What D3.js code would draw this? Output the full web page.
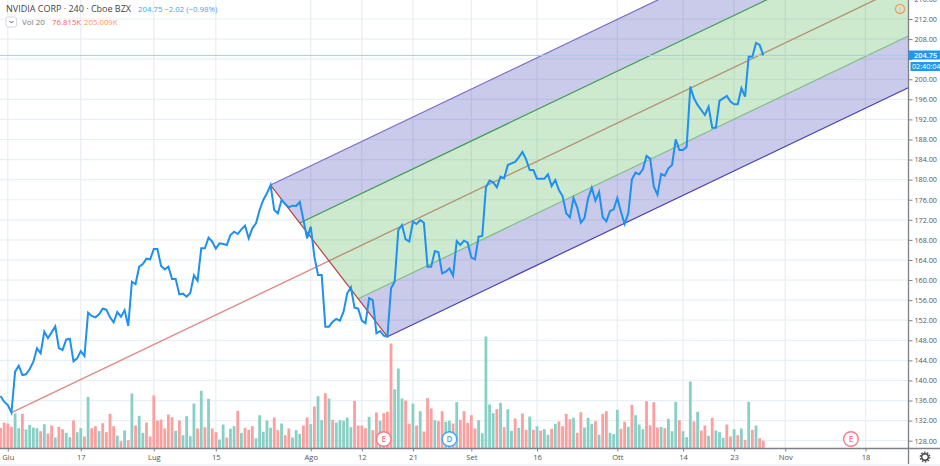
<!DOCTYPE html>
<html><head><meta charset="utf-8">
<style>html,body{margin:0;padding:0;background:#fff;overflow:hidden}svg{display:block}text{font-family:"Open Sans",sans-serif}</style>
<script src="https://cdn.jsdelivr.net/npm/d3@7/dist/d3.min.js"></script>
</head><body><svg id="c" width="940" height="466"></svg>
<script>
const closePrices = [
136.9,135.77,135.1,133.6,141.75,142.94,141.08,141.22,142.28,143.74,
146.40,145.40,149.72,148.45,149.58,150.78,146.46,146.06,148.12,148.32,
143.81,144.40,145.86,144.87,153.50,152.84,152.57,153.17,154.30,154.10,
152.57,151.57,153.63,152.70,153.97,150.84,159.68,159.21,162.66,163.19,
164.26,164.12,166.18,166.18,162.80,162.13,162.66,160.21,160.21,157.15,
157.29,156.69,157.42,160.94,159.87,166.32,166.32,168.44,167.64,166.25,
167.31,167.18,166.98,168.97,169.64,169.17,170.10,170.83,168.31,170.30,
171.30,173.95,175.94,177.27,178.93,173.95,173.29,175.94,175.15,174.48,
174.82,174.75,175.55,171.96,168.31,170.63,164.66,161.00,161.00,150.71,
150.71,151.71,152.24,151.91,153.70,157.35,158.55,154.50,154.30,151.91,
151.38,156.42,156.02,149.38,149.85,148.92,148.72,158.35,159.68,169.97,
170.96,168.11,167.71,171.63,171.16,171.96,171.43,162.66,162.66,165.78,
165.52,161.34,161.67,162.33,160.87,167.78,166.98,167.84,167.45,164.46,
164.13,168.64,168.77,178.47,179.80,179.46,178.47,180.59,180.26,182.92,
183.25,183.52,184.45,185.51,184.05,181.92,181.92,180.20,180.20,180.20,
181.06,178.73,179.93,177.94,176.74,173.29,172.49,176.34,174.48,171.43,
172.36,176.28,178.40,175.81,177.54,172.49,171.70,173.75,174.09,176.34,
173.62,171.16,173.29,180.06,181.39,181.06,182.05,184.71,184.18,178.60,
177.01,181.13,180.79,182.25,182.92,188.03,185.91,185.91,186.57,198.53,
196.20,194.88,193.88,192.88,194.54,190.36,190.36,195.74,196.20,196.67,
195.54,195.01,195.01,198.20,196.54,204.50,204.50,207.23,206.83,204.75];
const volumes = [
207,260,250,217,350,203,347,190,237,210,
203,173,243,150,230,110,217,193,157,113,
280,163,203,120,517,203,223,173,253,163,
347,223,130,73,180,83,550,230,327,157,
260,120,530,280,290,200,340,313,177,280,
133,323,123,450,200,577,213,497,200,163,
90,240,110,197,223,377,157,207,187,223,
103,333,167,280,207,310,183,250,133,200,
110,183,147,230,310,243,420,523,283,553,
500,287,260,283,277,310,213,477,230,230,
203,317,183,360,277,353,367,1050,593,800,
500,480,247,450,230,373,170,503,400,283,
273,373,267,277,250,463,287,373,257,333,
200,283,153,1120,440,353,393,457,213,393,
177,300,207,350,187,320,187,223,180,193,
137,197,247,270,223,347,293,307,157,363,
210,307,247,273,137,347,373,157,143,387,
197,267,217,437,333,240,193,473,233,463,
210,217,203,297,173,467,283,173,113,670,
270,367,180,230,127,307,180,163,107,240,
120,193,133,200,87,467,187,230,103,77];
const upBars = [4,5,7,8,9,10,12,15,18,19,21,22,24,27,32,34,36,38,39,48,50,51,52,53,55,57,60,61,63,64,66,70,71,
72,73,74,77,80,81,82,85,87,88,90,92,93,94,95,96,101,104,108,109,110,113,115,119,122,123,125,131,132,133,134,135,137,139,140,142,
145,147,149,150,152,157,160,161,162,164,167,168,169,172,174,175,176,181,183,184,185,187,188,189,191,194,196,197,198,201,203,205,207];
const tickBars = [2,22,42,59,85,99,113,129,147,169,187,201,215,237];
const tickLabels = ["Giu","17","Lug","15","Ago","12","21","Set","16","Ott","14","23","Nov","18"];
const priceTicks = [128,132,136,140,144,148,152,156,160,164,168,172,176,180,184,188,192,196,200,204,208,212,216];
const hiddenPriceLabel = 204;
const pivotBars = [3,74,106];
const eventBars = [105,123,233];
const eventLabels = ["E","D","E"];
const eventColors = ["#f47c85","#42a5f5","#f47c85"];

const W=940,H=466,plotR=908.5,plotB=448.5;
const x=d3.scaleLinear().domain([0,237]).range([0.5,865.5]);
const y=d3.scaleLinear().domain([128,212]).range([440.7,19]);
const v=d3.scaleLinear().domain([0,1120]).range([plotB,336.5]);
const svg=d3.select("#c");
svg.append("rect").attr("width",W).attr("height",H).attr("fill","#fff");
const defs=svg.append("defs");
defs.append("clipPath").attr("id","plot").append("rect").attr("width",plotR).attr("height",plotB);
const g=svg.append("g").attr("clip-path","url(#plot)");

// grid
g.selectAll(".gh").data(priceTicks).join("line").attr("x1",0).attr("x2",plotR)
 .attr("y1",d=>y(d)).attr("y2",d=>y(d)).attr("stroke","#e9f0f5").attr("stroke-width",1.2);
g.selectAll(".gv").data(tickBars).join("line").attr("y1",0).attr("y2",plotB)
 .attr("x1",d=>x(d)).attr("x2",d=>x(d)).attr("stroke","#e6eef4").attr("stroke-width",1.2);

// volume
const upSet=new Set(upBars);
g.selectAll(".vol").data(volumes).join("rect")
 .attr("x",(d,i)=>x(i)-1.4).attr("width",2.8)
 .attr("y",d=>v(d)).attr("height",d=>plotB-v(d))
 .attr("fill",(d,i)=>upSet.has(i)?"#88d0c5":"#fb9f9f");

// pitchfork (in data space: bar, price)
const A=[pivotBars[0],closePrices[pivotBars[0]]],
      B=[pivotBars[1],closePrices[pivotBars[1]]],
      C=[pivotBars[2],closePrices[pivotBars[2]]];
const M=[(B[0]+C[0])/2,(B[1]+C[1])/2];
const slope=(M[1]-A[1])/(M[0]-A[0]);
const endBar=x.invert(plotR+40);
const lerp=t=>[B[0]+(C[0]-B[0])*t,B[1]+(C[1]-B[1])*t];
const ext=p=>[endBar,p[1]+slope*(endBar-p[0])];
const px=p=>[x(p[0]),y(p[1])];
const poly=(a,b)=>[px(a),px(ext(a)),px(ext(b)),px(b)].map(p=>p.join(",")).join(" ");
const P0=lerp(0),P1=lerp(.25),P2=lerp(.5),P3=lerp(.75),P4=lerp(1);
const seg=(a,b,c,w)=>{const p=px(a),q=px(b);g.append("line").attr("x1",p[0]).attr("y1",p[1]).attr("x2",q[0]).attr("y2",q[1]).attr("stroke",c).attr("stroke-width",w||1.2);};
seg(A,ext(P2),"#de8a86",1.4);
g.append("polygon").attr("points",poly(P0,P1)).attr("fill","rgba(63,63,180,0.28)");
g.append("polygon").attr("points",poly(P1,P3)).attr("fill","rgba(76,175,80,0.28)");
g.append("polygon").attr("points",poly(P3,P4)).attr("fill","rgba(63,63,180,0.28)");
seg(P0,ext(P0),"#7d6dc0");
seg(P1,ext(P1),"#3f9a55");
seg(P3,ext(P3),"#7fbf82");
seg(P4,ext(P4),"#4a3fb5");
seg(P0,P4,"#b5423f");

// last price line
const lastPrice=closePrices[closePrices.length-1];
g.append("line").attr("x1",0).attr("x2",plotR).attr("y1",y(lastPrice)).attr("y2",y(lastPrice))
 .attr("stroke","#9ccff2").attr("stroke-width",1);

// price line
g.append("path").datum(closePrices)
 .attr("d",d3.line().x((d,i)=>x(i)).y(d=>y(d)))
 .attr("fill","none").attr("stroke","#1e90f0").attr("stroke-width",2).attr("stroke-linejoin","miter");

// events
const ev=g.selectAll(".ev").data(eventBars).join("g").attr("transform",d=>`translate(${x(d)},439)`);
ev.append("circle").attr("r",7.3).attr("fill","#fff").attr("stroke",(d,i)=>eventColors[i]).attr("stroke-width",1.4);
ev.append("text").text((d,i)=>eventLabels[i]).attr("text-anchor","middle").attr("y",3).attr("font-size",8).attr("font-weight",600).attr("fill",(d,i)=>eventColors[i]);

// alert icon
const al=svg.append("g").attr("transform","translate(900,9)");
al.append("circle").attr("r",4.6).attr("fill","none").attr("stroke","#f0a060").attr("stroke-width",1.3);
al.append("text").text("!").attr("text-anchor","middle").attr("y",3).attr("font-size",8).attr("fill","#f0a060");

// axes
const ay=svg.append("g").attr("transform",`translate(${plotR},0)`)
 .call(d3.axisRight(y).tickValues(priceTicks).tickFormat(d=>d===hiddenPriceLabel?"":d3.format(".2f")(d)).tickSize(4).tickPadding(2));
ay.select(".domain").attr("d",`M0,0V${H}`).attr("stroke","#7d8187").attr("stroke-width",1.3);
ay.selectAll(".tick line").attr("stroke","#7d8187");
ay.selectAll("text").attr("font-size",7.2).attr("fill","#555").attr("font-family",'"Open Sans",sans-serif');

const ax=svg.append("g").attr("transform",`translate(0,${plotB})`)
 .call(d3.axisBottom(x).tickValues(tickBars).tickFormat((d,i)=>tickLabels[i]).tickSize(3).tickPadding(3));
ax.select(".domain").attr("d",`M0,0H${W}`).attr("stroke","#7d8187").attr("stroke-width",1.3);
ax.selectAll(".tick line").attr("stroke","#7d8187");
ax.selectAll("text").attr("font-size",7.6).attr("fill","#555").attr("font-family",'"Open Sans",sans-serif');

svg.append("rect").attr("x",0).attr("y",464).attr("width",W).attr("height",2).attr("fill","#f2f4fa");

// last-price tags
svg.append("rect").attr("x",plotR).attr("y",50.5).attr("width",W-plotR).attr("height",9).attr("fill","#2196f3");
svg.append("text").text(d3.format(".2f")(lastPrice)).attr("x",914).attr("y",57.8).attr("font-size",7.4).attr("font-weight",600).attr("fill","#fff");
svg.append("rect").attr("x",plotR+2).attr("y",62).attr("width",W-plotR-2).attr("height",9).attr("fill","#2196f3");
svg.append("text").text("02:40:04").attr("x",912).attr("y",69.3).attr("font-size",7.2).attr("fill","#fff");

// legend
const t=(s,xp,yp,c,fs)=>svg.append("text").text(s).attr("x",xp).attr("y",yp).attr("fill",c).attr("font-size",fs);
t("NVIDIA CORP · 240 · Cboe BZX",6,11.5,"#444",9);
t("204.75  −2.02 (−0.98%)",138,12,"#42a5f5",7.8);
svg.append("rect").attr("x",6).attr("y",17).attr("width",10.5).attr("height",10).attr("rx",2).attr("fill","#fff").attr("stroke","#d5d8de");
svg.append("path").attr("d","M9.5,21 l2,2 l2,-2").attr("fill","none").attr("stroke","#555").attr("stroke-width",1);
t("Vol 20",22,25,"#777",8);
t("76.815K",52,25,"#ff5a5a",7.8);
t("205.009K",84,25,"#ff9850",7.8);

// settings gear
const gear=svg.append("g").attr("transform","translate(925,457)");
gear.append("circle").attr("r",3.3).attr("fill","none").attr("stroke","#444").attr("stroke-width",1.4);
gear.append("circle").attr("r",4.8).attr("fill","none").attr("stroke","#444").attr("stroke-width",1.2).attr("stroke-dasharray","1.6 1.4");
</script></body></html>
